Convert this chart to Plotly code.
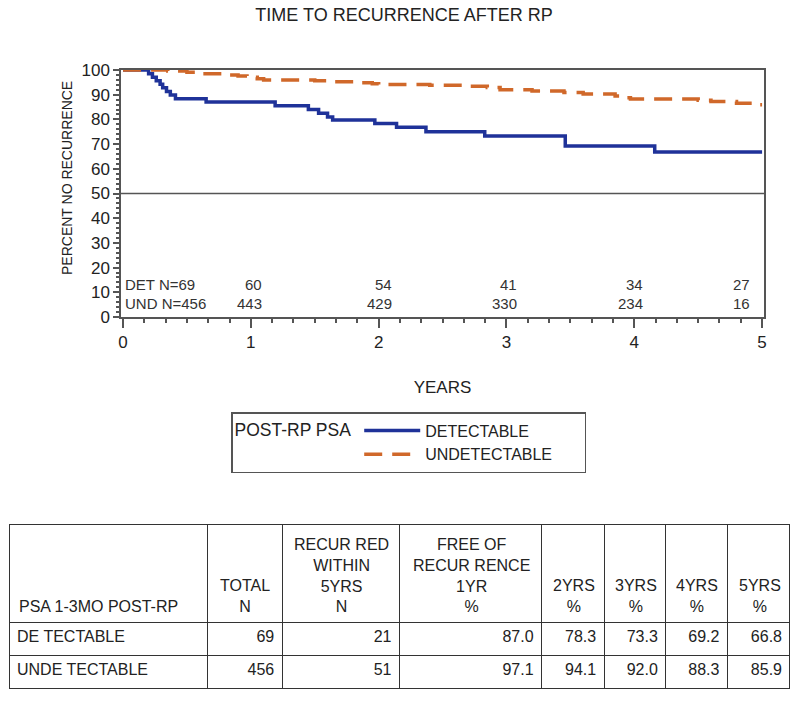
import plotly.graph_objects as go

# Kaplan-Meier step curves
det_t = [0, 0.2, 0.23, 0.26, 0.29, 0.31, 0.34, 0.37, 0.41, 0.65, 1.19, 1.45, 1.53, 1.6, 1.64,
         1.97, 2.14, 2.37, 2.83, 3.46, 4.16, 5.0]
det_y = [100, 98.5, 97.1, 95.6, 94.2, 92.8, 91.3, 89.9, 88.4, 87.0, 85.5, 84.0, 82.5, 81.0, 79.8,
         78.3, 76.8, 75.0, 73.3, 69.2, 66.8, 66.8]

und_t = [0, 0.35, 0.5, 0.6, 0.8, 0.9, 0.97, 1.05, 1.1, 1.5, 1.65, 1.85, 1.95, 2.0, 2.4, 2.7,
         2.85, 2.95, 3.2, 3.45, 3.6, 3.85, 3.9, 3.97, 4.5, 4.6, 4.8, 4.95, 5.0]
und_y = [100, 99.6, 99.1, 98.5, 98.0, 97.6, 97.1, 96.5, 96.0, 95.6, 95.2, 94.8, 94.4, 94.1, 93.8, 93.4,
         92.9, 92.0, 91.5, 90.9, 90.3, 89.5, 88.8, 88.3, 87.8, 87.2, 86.5, 85.9, 85.9]

ref_level = 50

# numbers at risk
risk_x = [1.1, 2.12, 3.1, 4.08, 4.92]
det_risk = ['60', '54', '41', '34', '27']
und_risk = ['443', '429', '330', '234', '16']
det_label = 'DET N=69'
und_label = 'UND N=456'

# summary table
tbl_header = ['PSA 1-3MO POST-RP', 'TOTAL<br>N', 'RECUR RED<br>WITHIN<br>5YRS<br>N',
              'FREE OF<br>RECUR RENCE<br>1YR<br>%', '2YRS<br>%', '3YRS<br>%', '4YRS<br>%', '5YRS<br>%']
col_w = [200, 75, 118, 143, 63, 62, 62, 63]
groups = ['DE TECTABLE', 'UNDE TECTABLE']
total_n = [69, 456]
recurred = [21, 51]
free_1yr = ['87.0', '97.1']
free_2yr = ['78.3', '94.1']
free_3yr = ['73.3', '92.0']
free_4yr = ['69.2', '88.3']
free_5yr = ['66.8', '85.9']

FONT = 'Liberation Sans, Arial, sans-serif'
TXT = '#222'
BLUE = '#1f3299'
ORANGE = '#d0682a'

# the page body has an 8px margin, so keep the figure inside the 800x701 window
OFF = 8
W, H = 800 - 2 * OFF, 701 - 2 * OFF


def px(x):
    return (x - OFF) / W


def py(y):
    return 1 - (y - OFF) / H


fig = go.Figure()
fig.add_trace(go.Scatter(x=det_t, y=det_y, mode='lines', line_shape='hv', name='DETECTABLE',
                         line=dict(color=BLUE, width=3.5)))
fig.add_trace(go.Scatter(x=und_t, y=und_y, mode='lines', line_shape='hv',
                         name='UNDETECTABLE' + '\u00a0' * 6,
                         line=dict(color=ORANGE, width=3.5, dash='18px,10px')))
fig.add_hline(y=ref_level, line=dict(color='#555', width=1.5))

# number at risk text
risk_font = dict(size=15, color='#333', family=FONT)
for xi, a, b in zip(risk_x, det_risk, und_risk):
    fig.add_annotation(x=xi, y=13, text=a, showarrow=False, xanchor='right', font=risk_font)
    fig.add_annotation(x=xi, y=5.3, text=b, showarrow=False, xanchor='right', font=risk_font)
fig.add_annotation(x=0, y=13, text=det_label, showarrow=False, xanchor='left', font=risk_font)
fig.add_annotation(x=0, y=5.3, text=und_label, showarrow=False, xanchor='left', font=risk_font)

# y axis title (sits a bit above the axis middle in the original)
fig.add_annotation(xref='paper', yref='paper', x=px(67), y=py(178), text='PERCENT NO RECURRENCE',
                   textangle=-90, showarrow=False, xanchor='center', yanchor='middle',
                   font=dict(size=14, color=TXT, family=FONT))

# table: grid + body cells, header text added as centred annotations
tx0, tx1 = 9, 791
ty0, ty1 = 524, 692
fig.add_trace(go.Table(
    domain=dict(x=[px(tx0), px(tx1)], y=[py(ty1), py(ty0)]),
    columnwidth=col_w,
    header=dict(values=[''] * len(col_w), height=98,
                line=dict(color='#333', width=1), fill_color='white',
                font=dict(size=16, color=TXT, family=FONT)),
    cells=dict(values=[groups, total_n, recurred, free_1yr, free_2yr, free_3yr, free_4yr, free_5yr],
               height=33, align=['left'] + ['right'] * 7,
               line=dict(color='#333', width=1), fill_color='white',
               font=dict(size=16, color=TXT, family=FONT)),
))
scale = (tx1 - tx0) / sum(col_w)
left = tx0
for i, (txt, w) in enumerate(zip(tbl_header, col_w)):
    cw = w * scale
    if i == 0:
        fig.add_annotation(xref='paper', yref='paper', x=px(left + 8), y=py(ty0 + 93), text=txt,
                           showarrow=False, xanchor='left', yanchor='bottom', align='left',
                           font=dict(size=16, color=TXT, family=FONT))
    else:
        fig.add_annotation(xref='paper', yref='paper', x=px(left + cw / 2), y=py(ty0 + 93), text=txt,
                           showarrow=False, xanchor='center', yanchor='bottom', align='center',
                           font=dict(size=16, color=TXT, family=FONT))
    left += cw

fig.update_layout(
    width=W, height=H,
    margin=dict(l=0, r=0, t=0, b=0, autoexpand=False),
    paper_bgcolor='white', plot_bgcolor='white',
    font=dict(family=FONT, color=TXT),
    title=dict(text='TIME TO RECURRENCE AFTER RP', x=px(404), xanchor='center', y=1,
               yanchor='top', font=dict(size=18, color=TXT, family=FONT)),
    xaxis=dict(domain=[px(121), px(764)], range=[-0.016, 5.015], tickvals=[0, 1, 2, 3, 4, 5],
               automargin=False,
               showgrid=False, zeroline=False, showline=True, linecolor='#555', linewidth=1.5,
               mirror=True, ticks='outside', ticklen=9, tickcolor='#555', tickwidth=1.5,
               minor=dict(dtick=1 / 6, tick0=0, ticks='outside', ticklen=4, tickcolor='#555'),
               tickfont=dict(size=17, family=FONT, color=TXT),
               title=dict(text='YEARS', standoff=30, font=dict(size=17, family=FONT, color=TXT))),
    yaxis=dict(domain=[py(317), py(70)], range=[0, 100], dtick=10, automargin=False,
               showgrid=False, zeroline=False, showline=True, linecolor='#555', linewidth=1.5,
               mirror=True, ticks='outside', ticklen=6, tickcolor='#555', tickwidth=1.5,
               minor=dict(dtick=2, ticks='outside', ticklen=3, tickcolor='#555'),
               tickfont=dict(size=17, family=FONT, color=TXT)),
    legend=dict(x=px(231), y=py(412), xanchor='left', yanchor='top',
                bordercolor='#555', borderwidth=1.5, bgcolor='white',
                title=dict(text='POST-RP PSA', side='left', font=dict(size=17.5, family=FONT)),
                font=dict(size=16, family=FONT, color=TXT), itemwidth=56),
)

fig.write_html('out.html')
